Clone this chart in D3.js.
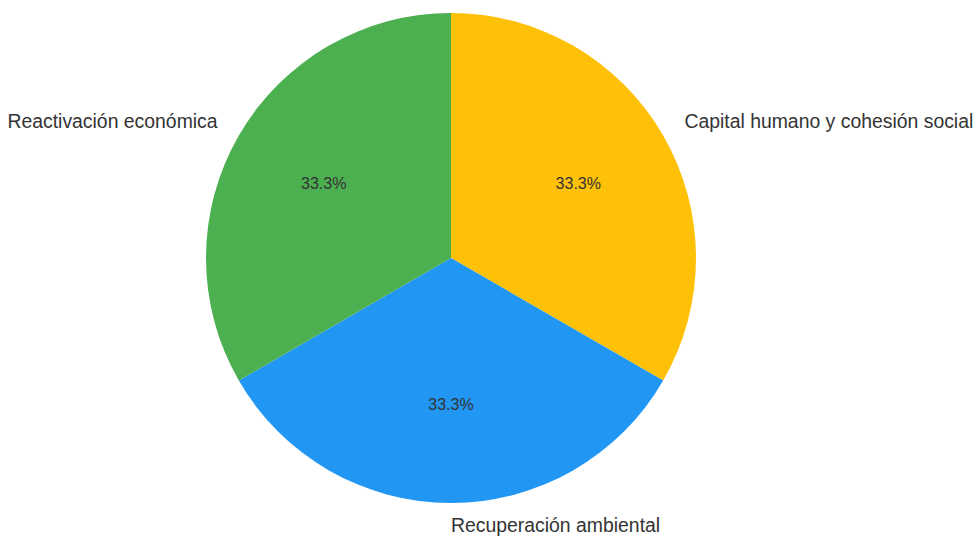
<!DOCTYPE html>
<html>
<head>
<meta charset="utf-8">
<script src="https://cdn.jsdelivr.net/npm/d3@7"></script>
<style>
  html, body { margin: 0; padding: 0; background: #ffffff; }
  svg { display: block; }
  text { font-family: "Liberation Sans", Arial, sans-serif; fill: #333333; }
</style>
</head>
<body>
<svg id="chart" width="976" height="536"></svg>
<script>
// Pillars and their shares
const categories = ["Capital humano y cohesión social", "Recuperación ambiental", "Reactivación económica"];
const values = [1, 1, 1];
const colors = ["#FFC107", "#2196F3", "#4CAF50"];

const width = 976, height = 536;
const cx = 451, cy = 258, radius = 245;

const svg = d3.select("#chart");
const g = svg.append("g").attr("transform", `translate(${cx},${cy})`);

const total = d3.sum(values);
const pie = d3.pie().sort(null).value(d => d.value);
const arcs = pie(categories.map((c, i) => ({ name: c, value: values[i], color: colors[i] })));

const arc = d3.arc().innerRadius(0).outerRadius(radius);

g.selectAll("path.slice")
  .data(arcs)
  .join("path")
  .attr("class", "slice")
  .attr("d", arc)
  .attr("fill", d => d.data.color);

// Percentages inside slices
const pctFmt = d3.format(".1f");
g.selectAll("text.pct")
  .data(arcs)
  .join("text")
  .attr("class", "pct")
  .attr("x", d => Math.sin((d.startAngle + d.endAngle) / 2) * radius * 0.6)
  .attr("y", d => -Math.cos((d.startAngle + d.endAngle) / 2) * radius * 0.6 - 1)
  .attr("text-anchor", "middle")
  .attr("dominant-baseline", "central")
  .style("font-size", "16px")
  .text(d => pctFmt(d.value / total * 100) + "%");

// Category labels outside the pie
g.selectAll("text.label")
  .data(arcs)
  .join("text")
  .attr("class", "label")
  .each(function (d) {
    const a = (d.startAngle + d.endAngle) / 2;
    const x = Math.sin(a) * radius * 1.1;
    const y = -Math.cos(a) * radius * 1.1;
    d3.select(this)
      .attr("x", x)
      .attr("y", y - 2.5)
      .attr("text-anchor", x >= -1e-6 ? "start" : "end");
  })
  .attr("dominant-baseline", "central")
  .style("font-size", "19.4px")
  .text(d => d.data.name);
</script>
</body>
</html>
